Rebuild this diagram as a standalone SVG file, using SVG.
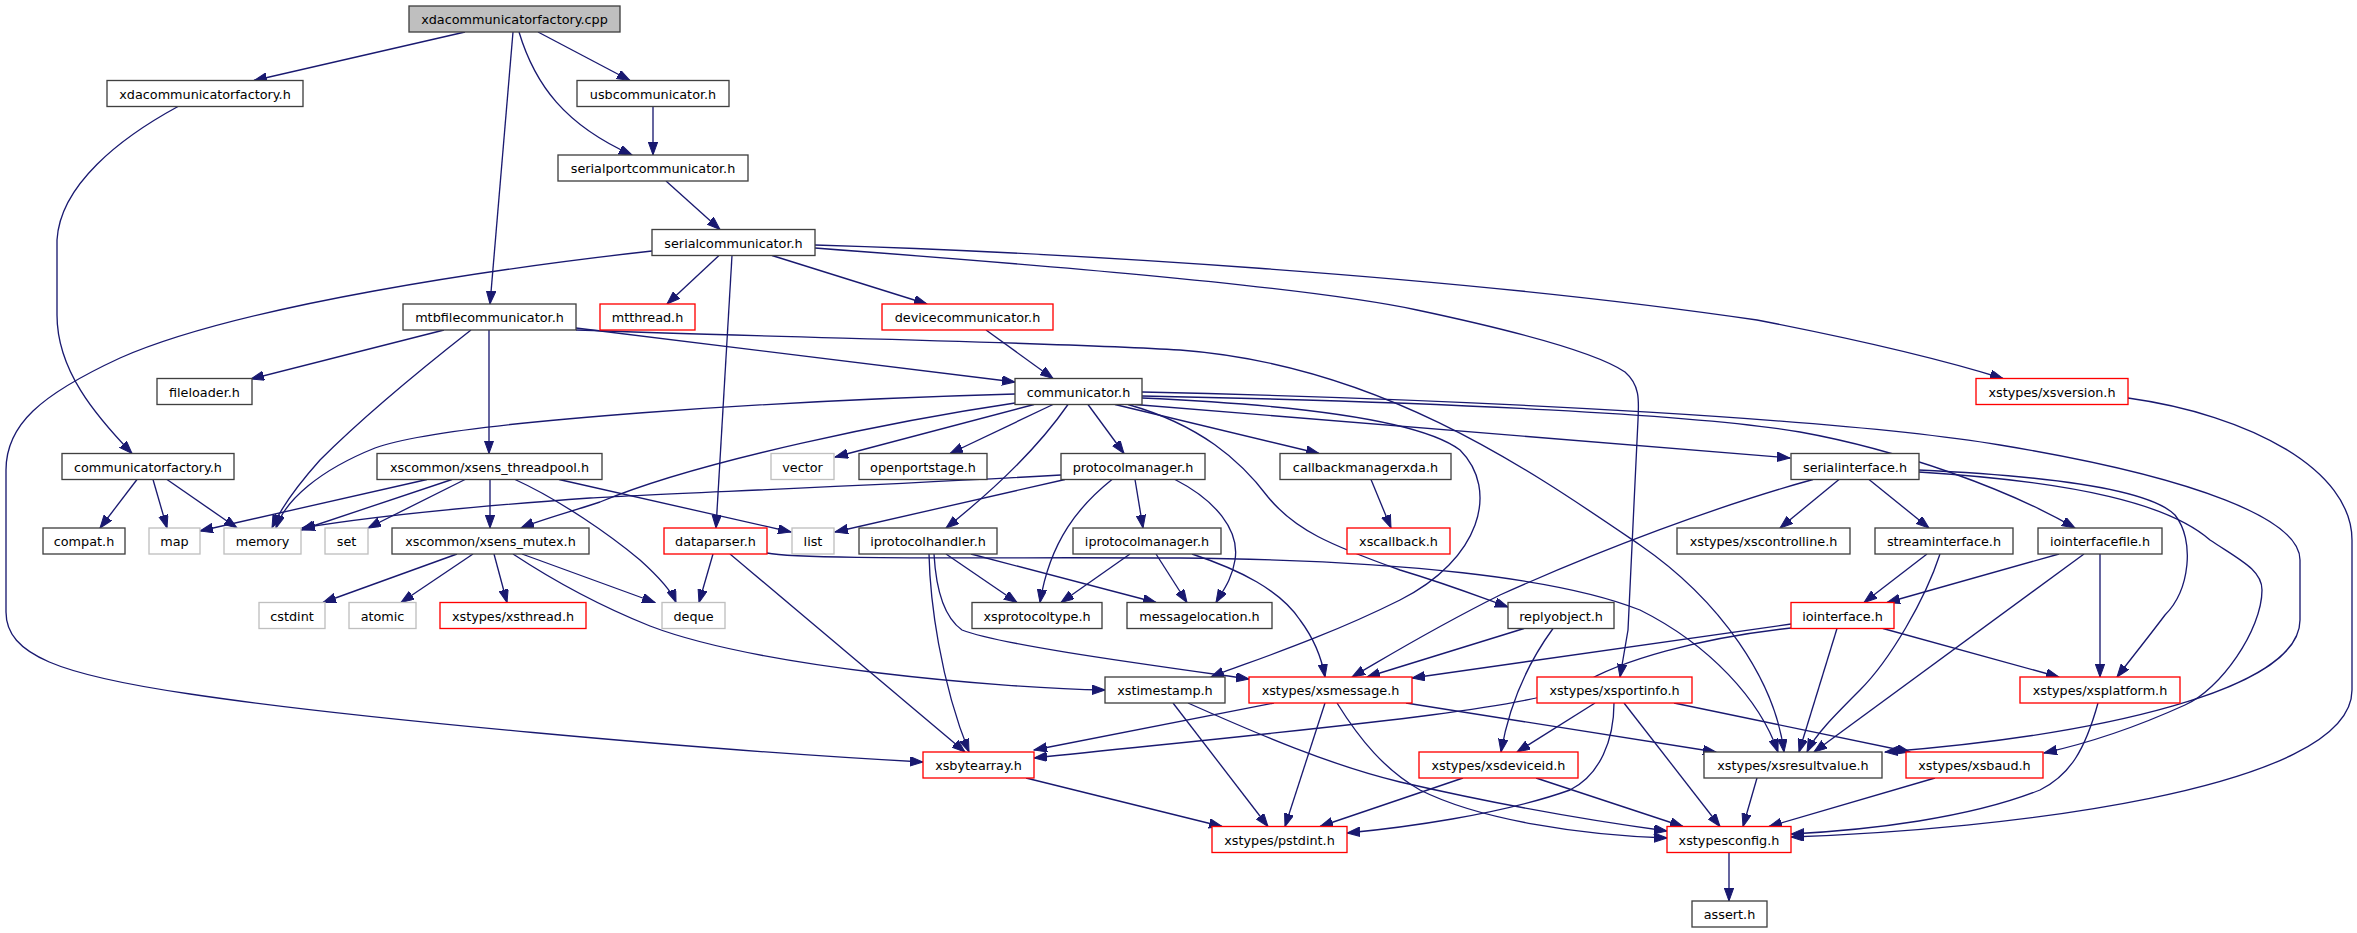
<svg xmlns="http://www.w3.org/2000/svg" width="2357" height="933" viewBox="0 0 2357 933">
<style>
.n rect{fill:#fff;stroke:#404040;stroke-width:1.33}
.r rect{stroke:#ff0000}
.g rect{stroke:#bfbfbf}
.root rect{fill:#bfbfbf}
text{font-family:"DejaVu Sans","Liberation Sans",sans-serif;font-size:12.8px;fill:#000;text-anchor:middle}
.e path{fill:none;stroke:#191970;stroke-width:1.33;marker-end:url(#ah)}
</style>
<defs>
<marker id="ah" markerUnits="userSpaceOnUse" markerWidth="14" markerHeight="10" refX="13" refY="4.7" orient="auto"><path d="M0,0 L13,4.7 L0,9.4 z" fill="#191970" stroke="#191970" stroke-width="1"/></marker>
</defs>
<rect width="2357" height="933" fill="#fff"/>
<g id="connectors" class="e">
<path d="M465,32 L254,80.5"/>
<path d="M513,32 L490,304"/>
<path d="M538,32 L630,80.5"/>
<path d="M519,32 C535,85 565,125 632,155"/>
<path d="M178,106.5 C120,138 60,185 57,240 L57,315 C57,370 95,415 132,453.5"/>
<path d="M653,106.5 L653,155"/>
<path d="M666,181 L720,229.5"/>
<path d="M719,255.5 L667,304"/>
<path d="M732,255.5 L716,528"/>
<path d="M772,255.5 L927,304"/>
<path d="M652,251 C500,268 240,305 120,358 C40,395 6,425 6,470 L6,612 C6,655 60,675 190,694 C350,718 700,750 923,762"/>
<path d="M815,248 C1000,262 1300,285 1417,310 C1530,334 1600,355 1625,372 C1640,385 1639,400 1638,420 L1628,630 L1620,677"/>
<path d="M815,245 C1050,252 1450,275 1757,320 C1860,340 1950,362 2003,378.5"/>
<path d="M444,330 L251,379"/>
<path d="M471,330 C420,370 360,420 320,460 C295,488 280,510 272,528"/>
<path d="M489,330 L489,453.5"/>
<path d="M576,328 L1015,382"/>
<path d="M576,330 C800,338 1050,342 1180,350 C1380,365 1530,470 1640,545 C1720,600 1775,680 1784,752"/>
<path d="M986,330 L1053,378.5"/>
<path d="M137,479.5 L100,528"/>
<path d="M153,479.5 L167,528"/>
<path d="M167,479.5 L237,528"/>
<path d="M427,479.5 L200,531"/>
<path d="M452,479.5 L301,530"/>
<path d="M465,479.5 L368,528"/>
<path d="M490,479.5 L490,528"/>
<path d="M559,479.5 L791,532"/>
<path d="M515,479.5 C560,500 610,535 640,560 C660,578 672,592 676,602.5"/>
<path d="M457,554 L323,602.5"/>
<path d="M473,554 L401,602.5"/>
<path d="M494,554 L507,602.5"/>
<path d="M522,554 L655,602.5"/>
<path d="M513,554 C560,585 610,610 650,626 C760,668 1000,688 1105,690"/>
<path d="M1015,394 C800,400 450,420 375,448 C320,470 285,500 276,528"/>
<path d="M1015,403 C900,420 700,460 600,502 C570,512 540,520 521,528"/>
<path d="M1034,404.5 L835,457"/>
<path d="M1053,404.5 L950,453.5"/>
<path d="M1068,404.5 C1040,445 1000,485 946,528"/>
<path d="M1088,404.5 L1124,453.5"/>
<path d="M1115,404.5 L1319,453.5"/>
<path d="M1128,404.5 C1200,425 1240,460 1268,497 C1295,530 1330,545 1400,570 C1450,585 1480,597 1508,607"/>
<path d="M1142,398 C1300,405 1420,420 1460,450 C1500,490 1480,560 1400,600 C1320,640 1240,665 1211,677"/>
<path d="M1135,404.5 C1400,425 1650,445 1790,458"/>
<path d="M1142,396 C1450,402 1700,415 1800,432 C1900,450 2010,490 2075,528"/>
<path d="M1142,392 C1500,400 1850,420 2000,445 C2200,478 2300,520 2300,560 L2300,620 C2300,690 2100,735 1885,752"/>
<path d="M1061,475 C850,487 650,494 590,498 C450,508 350,520 302,528"/>
<path d="M1065,479.5 L835,532"/>
<path d="M1112,479.5 C1080,505 1050,540 1040,602.5"/>
<path d="M1135,479.5 L1143,528"/>
<path d="M1175,479.5 C1215,500 1240,530 1235,560 C1232,580 1222,592 1216,602.5"/>
<path d="M946,554 L1017,602.5"/>
<path d="M971,554 L1156,602.5"/>
<path d="M929,554 C930,600 940,680 969,752"/>
<path d="M934,554 C936,590 945,618 962,630 C1000,645 1150,665 1249,679"/>
<path d="M1130,554 L1061,602.5"/>
<path d="M1156,554 L1187,602.5"/>
<path d="M1192,554 C1240,570 1280,590 1300,620 C1315,640 1322,660 1325,677"/>
<path d="M713,554 L699,602.5"/>
<path d="M730,554 L965,752"/>
<path d="M767,553 C800,560 1000,557 1180,558 C1400,560 1560,578 1640,610 C1710,645 1760,700 1778,752"/>
<path d="M1371,479.5 L1391,528"/>
<path d="M1524,628.5 L1367,677"/>
<path d="M1553,628.5 C1530,660 1510,700 1501,752"/>
<path d="M1813,479.5 C1720,505 1600,550 1500,595 C1430,630 1390,655 1352,677"/>
<path d="M1839,479.5 L1780,528"/>
<path d="M1869,479.5 L1929,528"/>
<path d="M1918.5,470 C2050,476 2150,490 2175,515 C2195,540 2190,590 2165,615 C2150,635 2130,660 2117,677"/>
<path d="M1918.5,472 C2080,482 2170,505 2210,540 C2240,560 2262,570 2262,590 C2262,630 2220,690 2185,705 C2130,730 2080,745 2044,753"/>
<path d="M1927,554 L1864,602.5"/>
<path d="M1940,554 C1925,600 1890,660 1860,690 C1835,715 1815,735 1807,752"/>
<path d="M2059,554 L1887,602.5"/>
<path d="M2084,554 L1814,752"/>
<path d="M2100,554 L2100,677"/>
<path d="M1791,624 L1412,678"/>
<path d="M1791,628 C1700,638 1620,660 1580,685 C1530,710 1300,730 1034,758"/>
<path d="M1837,628.5 L1799,752"/>
<path d="M1883,628.5 L2059,677"/>
<path d="M1173,703 L1268,826.5"/>
<path d="M1188,703 C1260,735 1330,765 1400,782 C1500,805 1600,822 1667,831"/>
<path d="M1274,703 L1034,750"/>
<path d="M1325,703 L1285,826.5"/>
<path d="M1337,703 C1360,740 1385,770 1420,790 C1480,820 1580,835 1667,838"/>
<path d="M1406,703 L1716,752"/>
<path d="M1026,778 L1222,826.5"/>
<path d="M1595,703 L1517,752"/>
<path d="M1614,703 C1614,740 1600,775 1570,790 C1500,815 1400,828 1347,833"/>
<path d="M1624,703 L1720,826.5"/>
<path d="M1674,703 L1910,752"/>
<path d="M1463,778 L1320,826.5"/>
<path d="M1536,778 L1683,826.5"/>
<path d="M1757,778 L1743,826.5"/>
<path d="M1935,778 L1769,826.5"/>
<path d="M2098,703 C2085,750 2070,775 2040,790 C1970,818 1870,830 1791,834"/>
<path d="M2128,398 C2250,415 2352,470 2352,540 L2352,690 C2352,790 2000,830 1791,837"/>
<path d="M1729,852.5 L1729,901"/>
</g>
<g id="n_root" class="n root"><rect x="409" y="6" width="211" height="26"/><text x="514.5" y="24">xdacommunicatorfactory.cpp</text></g>
<g id="n_xdacommunicatorfactory_h" class="n"><rect x="107" y="80.5" width="196" height="26"/><text x="205" y="98.5">xdacommunicatorfactory.h</text></g>
<g id="n_usbcommunicator_h" class="n"><rect x="577" y="80.5" width="152" height="26"/><text x="653" y="98.5">usbcommunicator.h</text></g>
<g id="n_serialportcommunicator_h" class="n"><rect x="558" y="155" width="190" height="26"/><text x="653" y="173">serialportcommunicator.h</text></g>
<g id="n_serialcommunicator_h" class="n"><rect x="652" y="229.5" width="163" height="26"/><text x="733.5" y="247.5">serialcommunicator.h</text></g>
<g id="n_mtthread_h" class="n r"><rect x="600" y="304" width="95" height="26"/><text x="647.5" y="322">mtthread.h</text></g>
<g id="n_devicecommunicator_h" class="n r"><rect x="882" y="304" width="171" height="26"/><text x="967.5" y="322">devicecommunicator.h</text></g>
<g id="n_mtbfilecommunicator_h" class="n"><rect x="403" y="304" width="173" height="26"/><text x="489.5" y="322">mtbfilecommunicator.h</text></g>
<g id="n_fileloader_h" class="n"><rect x="157" y="378.5" width="95" height="26"/><text x="204.5" y="396.5">fileloader.h</text></g>
<g id="n_communicator_h" class="n"><rect x="1015" y="378.5" width="127" height="26"/><text x="1078.5" y="396.5">communicator.h</text></g>
<g id="n_xsversion_h" class="n r"><rect x="1976" y="378.5" width="152" height="26"/><text x="2052" y="396.5">xstypes/xsversion.h</text></g>
<g id="n_communicatorfactory_h" class="n"><rect x="62" y="453.5" width="172" height="26"/><text x="148" y="471.5">communicatorfactory.h</text></g>
<g id="n_xsens_threadpool_h" class="n"><rect x="377" y="453.5" width="225" height="26"/><text x="489.5" y="471.5">xscommon/xsens_threadpool.h</text></g>
<g id="n_vector" class="n g"><rect x="771" y="453.5" width="63" height="26"/><text x="802.5" y="471.5">vector</text></g>
<g id="n_openportstage_h" class="n"><rect x="859" y="453.5" width="128" height="26"/><text x="923" y="471.5">openportstage.h</text></g>
<g id="n_protocolmanager_h" class="n"><rect x="1061" y="453.5" width="144" height="26"/><text x="1133" y="471.5">protocolmanager.h</text></g>
<g id="n_callbackmanagerxda_h" class="n"><rect x="1280" y="453.5" width="171" height="26"/><text x="1365.5" y="471.5">callbackmanagerxda.h</text></g>
<g id="n_serialinterface_h" class="n"><rect x="1791" y="453.5" width="128" height="26"/><text x="1855" y="471.5">serialinterface.h</text></g>
<g id="n_compat_h" class="n"><rect x="43" y="528" width="82" height="26"/><text x="84" y="546">compat.h</text></g>
<g id="n_map" class="n g"><rect x="149" y="528" width="51" height="26"/><text x="174.5" y="546">map</text></g>
<g id="n_memory" class="n g"><rect x="224" y="528" width="77" height="26"/><text x="262.5" y="546">memory</text></g>
<g id="n_set" class="n g"><rect x="325" y="528" width="43" height="26"/><text x="346.5" y="546">set</text></g>
<g id="n_xsens_mutex_h" class="n"><rect x="392" y="528" width="197" height="26"/><text x="490.5" y="546">xscommon/xsens_mutex.h</text></g>
<g id="n_dataparser_h" class="n r"><rect x="664" y="528" width="103" height="26"/><text x="715.5" y="546">dataparser.h</text></g>
<g id="n_list" class="n g"><rect x="792" y="528" width="42" height="26"/><text x="813" y="546">list</text></g>
<g id="n_iprotocolhandler_h" class="n"><rect x="859" y="528" width="138" height="26"/><text x="928" y="546">iprotocolhandler.h</text></g>
<g id="n_iprotocolmanager_h" class="n"><rect x="1073" y="528" width="148" height="26"/><text x="1147" y="546">iprotocolmanager.h</text></g>
<g id="n_xscallback_h" class="n r"><rect x="1347" y="528" width="103" height="26"/><text x="1398.5" y="546">xscallback.h</text></g>
<g id="n_xscontrolline_h" class="n"><rect x="1677" y="528" width="173" height="26"/><text x="1763.5" y="546">xstypes/xscontrolline.h</text></g>
<g id="n_streaminterface_h" class="n"><rect x="1875" y="528" width="138" height="26"/><text x="1944" y="546">streaminterface.h</text></g>
<g id="n_iointerfacefile_h" class="n"><rect x="2038" y="528" width="124" height="26"/><text x="2100" y="546">iointerfacefile.h</text></g>
<g id="n_cstdint" class="n g"><rect x="259" y="602.5" width="66" height="26"/><text x="292" y="620.5">cstdint</text></g>
<g id="n_atomic" class="n g"><rect x="349" y="602.5" width="67" height="26"/><text x="382.5" y="620.5">atomic</text></g>
<g id="n_xsthread_h" class="n r"><rect x="440" y="602.5" width="146" height="26"/><text x="513" y="620.5">xstypes/xsthread.h</text></g>
<g id="n_deque" class="n g"><rect x="662" y="602.5" width="63" height="26"/><text x="693.5" y="620.5">deque</text></g>
<g id="n_xsprotocoltype_h" class="n"><rect x="972" y="602.5" width="130" height="26"/><text x="1037" y="620.5">xsprotocoltype.h</text></g>
<g id="n_messagelocation_h" class="n"><rect x="1127" y="602.5" width="145" height="26"/><text x="1199.5" y="620.5">messagelocation.h</text></g>
<g id="n_replyobject_h" class="n"><rect x="1508" y="602.5" width="106" height="26"/><text x="1561" y="620.5">replyobject.h</text></g>
<g id="n_iointerface_h" class="n r"><rect x="1791" y="602.5" width="103" height="26"/><text x="1842.5" y="620.5">iointerface.h</text></g>
<g id="n_xstimestamp_h" class="n"><rect x="1105" y="677" width="120" height="26"/><text x="1165" y="695">xstimestamp.h</text></g>
<g id="n_xsmessage_h" class="n r"><rect x="1249" y="677" width="163" height="26"/><text x="1330.5" y="695">xstypes/xsmessage.h</text></g>
<g id="n_xsportinfo_h" class="n r"><rect x="1537" y="677" width="155" height="26"/><text x="1614.5" y="695">xstypes/xsportinfo.h</text></g>
<g id="n_xsplatform_h" class="n r"><rect x="2020" y="677" width="160" height="26"/><text x="2100" y="695">xstypes/xsplatform.h</text></g>
<g id="n_xsbytearray_h" class="n r"><rect x="923" y="752" width="111" height="26"/><text x="978.5" y="770">xsbytearray.h</text></g>
<g id="n_xsdeviceid_h" class="n r"><rect x="1419" y="752" width="159" height="26"/><text x="1498.5" y="770">xstypes/xsdeviceid.h</text></g>
<g id="n_xsresultvalue_h" class="n"><rect x="1704" y="752" width="178" height="26"/><text x="1793" y="770">xstypes/xsresultvalue.h</text></g>
<g id="n_xsbaud_h" class="n r"><rect x="1906" y="752" width="137" height="26"/><text x="1974.5" y="770">xstypes/xsbaud.h</text></g>
<g id="n_pstdint_h" class="n r"><rect x="1212" y="826.5" width="135" height="26"/><text x="1279.5" y="844.5">xstypes/pstdint.h</text></g>
<g id="n_xstypesconfig_h" class="n r"><rect x="1667" y="826.5" width="124" height="26"/><text x="1729" y="844.5">xstypesconfig.h</text></g>
<g id="n_assert_h" class="n"><rect x="1692" y="901" width="75" height="26"/><text x="1729.5" y="919">assert.h</text></g>
</svg>
